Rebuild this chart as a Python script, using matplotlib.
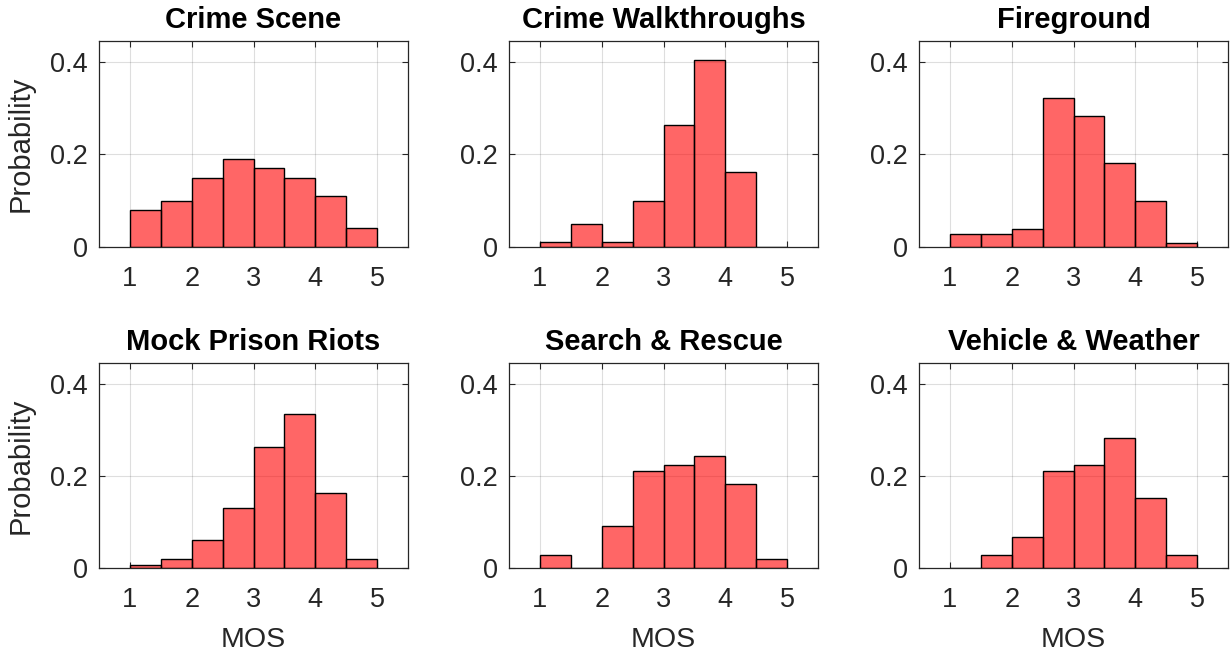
import matplotlib
matplotlib.use("Agg")
import matplotlib.pyplot as plt
import numpy as np

plt.rcParams['font.family'] = ['Liberation Sans', 'DejaVu Sans']

bin_edges = [1.0, 1.5, 2.0, 2.5, 3.0, 3.5, 4.0, 4.5, 5.0]
titles = ["Crime Scene", "Crime Walkthroughs", "Fireground",
          "Mock Prison Riots", "Search & Rescue", "Vehicle & Weather"]
crime_scene = [0.08, 0.10, 0.15, 0.19, 0.17, 0.15, 0.11, 0.04]
crime_walkthroughs = [0.01, 0.05, 0.01, 0.10, 0.263, 0.404, 0.161, 0.0]
fireground = [0.028, 0.028, 0.039, 0.322, 0.283, 0.181, 0.099, 0.008]
mock_prison_riots = [0.007, 0.02, 0.06, 0.131, 0.262, 0.334, 0.163, 0.02]
search_rescue = [0.028, 0.0, 0.091, 0.211, 0.223, 0.243, 0.183, 0.02]
vehicle_weather = [0.0, 0.028, 0.068, 0.211, 0.223, 0.282, 0.151, 0.028]
series = [crime_scene, crime_walkthroughs, fireground,
          mock_prison_riots, search_rescue, vehicle_weather]
x_ticks = [1, 2, 3, 4, 5]
y_ticks = [0, 0.2, 0.4]
y_tick_labels = ["0", "0.2", "0.4"]

W, H = 1231, 655
fig = plt.figure(figsize=(W / 100, H / 100), dpi=100)

lefts = [99, 509, 919]
rows = [(41, 247), (363, 568)]
axcol = '#262626'

for i, (title, vals) in enumerate(zip(titles, series)):
    r, c = divmod(i, 3)
    top, bot = rows[r]
    l = lefts[c]
    ax = fig.add_axes([l / W, (H - bot) / H, 309 / W, (bot - top) / H])
    edges = np.array(bin_edges)
    ax.bar(edges[:-1], vals, width=np.diff(edges), align='edge',
           color=(1, 0, 0, 0.6), edgecolor='black', linewidth=1.0, zorder=3)
    ax.set_xlim(0.5, 5.5)
    ax.set_ylim(0, 0.445)
    ax.set_xticks(x_ticks)
    ax.set_yticks(y_ticks)
    ax.set_yticklabels(y_tick_labels)
    ax.grid(True, color='#262626', alpha=0.15, linewidth=0.8, zorder=0)
    ax.set_axisbelow(True)
    for s in ax.spines.values():
        s.set_color(axcol)
        s.set_linewidth(0.9)
    ax.tick_params(axis='both', direction='in', top=True, right=True,
                   length=4, width=0.8, color=axcol, labelcolor=axcol,
                   labelsize=19.5)
    ax.tick_params(axis='x', pad=14)
    ax.tick_params(axis='y', pad=8)
    ax.set_title(title, fontsize=21, fontweight='bold', pad=9)
    if c == 0:
        ax.set_ylabel("Probability", fontsize=21, color=axcol, labelpad=11)
    if r == 1:
        ax.set_xlabel("MOS", fontsize=20.5, color=axcol, labelpad=10)

fig.savefig("out.png", dpi=100)
